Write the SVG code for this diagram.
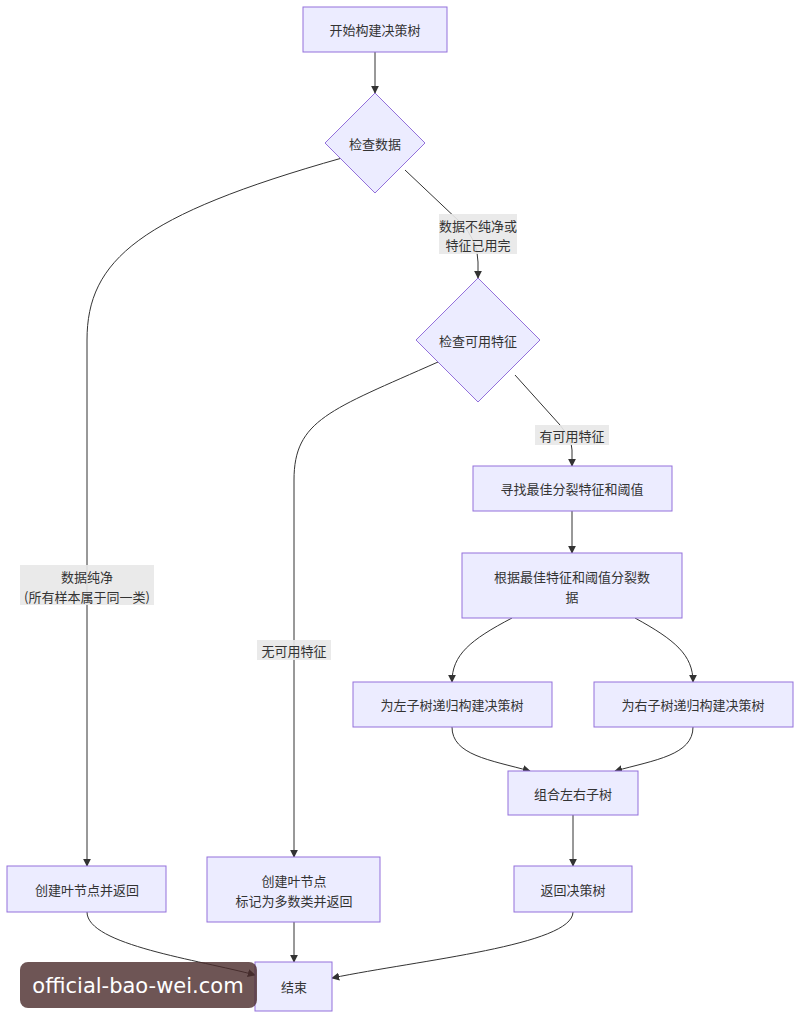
<svg xmlns="http://www.w3.org/2000/svg" width="800" height="1018" viewBox="0 0 800 1018">
<style>
.n{fill:#ECECFF;stroke:#9370DB;stroke-width:1}
.t{font-family:"Noto Sans CJK SC","Liberation Sans",sans-serif;font-size:13px;fill:#333;text-anchor:middle;dominant-baseline:central}
.e{fill:none;stroke:#333;stroke-width:1;marker-end:url(#a)}
.lb{fill:#e8e8e8;opacity:0.9}
</style>
<defs><marker id="a" viewBox="0 0 10 10" refX="9" refY="5" markerWidth="8" markerHeight="8" orient="auto"><path d="M0,0L10,5L0,10z" fill="#333"/></marker></defs>
<rect width="800" height="1018" fill="#fff"/>
<g id="edges">
<path class="e" d="M375,52L375,93"/>
<path class="e" d="M342,158C140,215 87,260 87,340L87,866"/>
<path class="e" d="M405,170L460,222Q478,240 478,262L478,278"/>
<path class="e" d="M438,362C330,410 294,420 294,480L294,857"/>
<path class="e" d="M515,375L560,425Q572,440 572,450L572,466"/>
<path class="e" d="M572,511L572,553"/>
<path class="e" d="M512,618C470,640 452,655 452,682"/>
<path class="e" d="M635,618C675,640 693,655 693,682"/>
<path class="e" d="M452,727C452,755 490,760 530,771"/>
<path class="e" d="M693,727C693,755 655,760 615,771"/>
<path class="e" d="M573,815L573,866"/>
<path class="e" d="M573,912C573,945 420,960 332,978"/>
<path class="e" d="M87,912C87,945 200,960 255,975"/>
<path class="e" d="M294,922L294,962"/>
</g>
<g id="labels">
<rect class="lb" x="439" y="214" width="78" height="40"/>
<text class="t" x="478" y="225">数据不纯净或</text><text class="t" x="478" y="244">特征已用完</text>
<rect class="lb" x="535" y="425" width="74" height="20"/>
<text class="t" x="572" y="435">有可用特征</text>
<rect class="lb" x="20" y="565" width="134" height="40"/>
<text class="t" x="87" y="576">数据纯净</text><text class="t" x="87" y="596">(所有样本属于同一类)</text>
<rect class="lb" x="257" y="640" width="74" height="20"/>
<text class="t" x="294" y="650">无可用特征</text>
</g>
<g id="start"><rect class="n" x="303" y="7" width="144" height="45"/><text class="t" x="375" y="29">开始构建决策树</text></g>
<g id="check1"><polygon class="n" points="375,93 425,143 375,193 325,143"/><text class="t" x="375" y="143">检查数据</text></g>
<g id="check2"><polygon class="n" points="478,278 540,340 478,402 416,340"/><text class="t" x="478" y="340">检查可用特征</text></g>
<g id="find"><rect class="n" x="473" y="466" width="199" height="45"/><text class="t" x="572" y="488">寻找最佳分裂特征和阈值</text></g>
<g id="split"><rect class="n" x="462" y="553" width="220" height="65"/><text class="t" x="572" y="576">根据最佳特征和阈值分裂数</text><text class="t" x="572" y="596">据</text></g>
<g id="left"><rect class="n" x="353" y="682" width="199" height="45"/><text class="t" x="452" y="704">为左子树递归构建决策树</text></g>
<g id="right"><rect class="n" x="594" y="682" width="199" height="45"/><text class="t" x="693" y="704">为右子树递归构建决策树</text></g>
<g id="combine"><rect class="n" x="508" y="771" width="130" height="44"/><text class="t" x="573" y="793">组合左右子树</text></g>
<g id="ret"><rect class="n" x="514" y="866" width="118" height="46"/><text class="t" x="573" y="889">返回决策树</text></g>
<g id="leaf1"><rect class="n" x="7" y="866" width="159" height="46"/><text class="t" x="87" y="889">创建叶节点并返回</text></g>
<g id="leaf2"><rect class="n" x="207" y="857" width="173" height="65"/><text class="t" x="294" y="880">创建叶节点</text><text class="t" x="294" y="900">标记为多数类并返回</text></g>
<g id="end"><rect class="n" x="255" y="962" width="77" height="49"/><text class="t" x="294" y="986">结束</text></g>
<g id="watermark"><rect x="20" y="962" width="237" height="46" rx="8" fill="#4a2a2a" opacity="0.8"/><text x="138" y="986" font-family="'DejaVu Sans',sans-serif" font-size="21" fill="#fff" text-anchor="middle" dominant-baseline="central">official-bao-wei.com</text></g>
</svg>
